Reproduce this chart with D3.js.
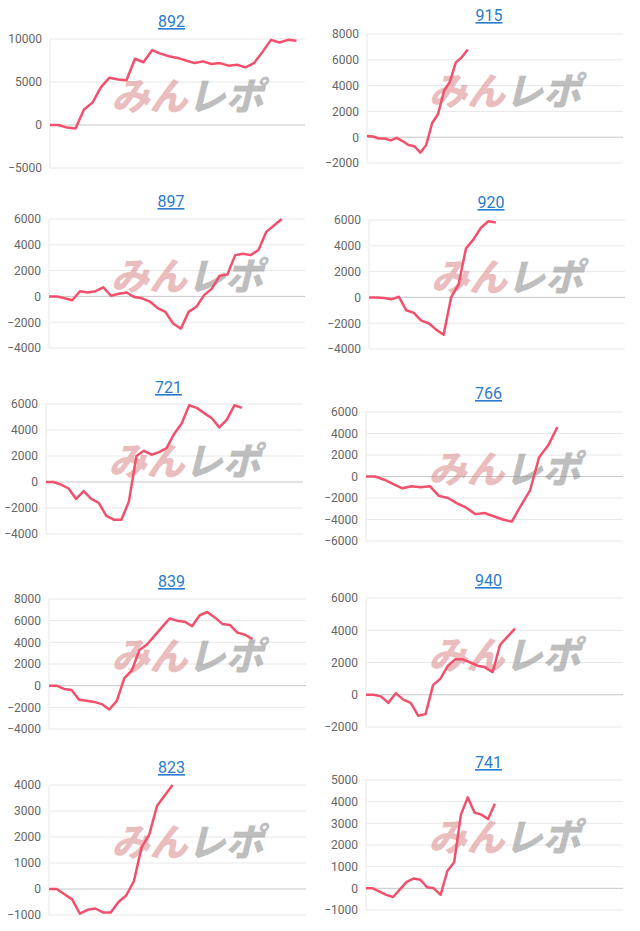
<!DOCTYPE html>
<html>
<head>
<meta charset="utf-8">
<script src="https://cdn.jsdelivr.net/npm/d3@7"></script>
<style>
body { margin: 0; background: #fff; }
</style>
</head>
<body>
<script>
var width = 640;
var height = 931;

// machine numbers
var titles = ["892", "915", "897", "920", "721", "766", "839", "940", "823", "741"];

// cumulative values per machine
var v892 = [0, 0, -300, -400, 1800, 2600, 4400, 5500, 5300, 5200, 7700, 7300, 8700, 8300, 8000, 7800, 7500, 7200, 7400, 7100, 7200, 6900, 7000, 6700, 7200, 8500, 9900, 9600, 9900, 9800];
var v915 = [100, 50, -100, -100, -250, -50, -300, -600, -700, -1200, -600, 1100, 1800, 3600, 4300, 5800, 6200, 6800];
var v897 = [0, 0, -150, -300, 400, 300, 400, 700, 50, 200, 300, -50, -150, -400, -900, -1200, -2100, -2500, -1200, -800, 100, 600, 1600, 1700, 3200, 3300, 3200, 3600, 5000, 5500, 6000];
var v920 = [0, 0, -50, -150, 50, -1000, -1200, -1800, -2000, -2500, -2900, 0, 1000, 3800, 4500, 5400, 5900, 5800];
var v721 = [0, 0, -200, -500, -1300, -700, -1300, -1600, -2600, -2900, -2900, -1500, 2000, 2400, 2100, 2300, 2600, 3700, 4500, 5900, 5700, 5300, 4900, 4200, 4800, 5900, 5700];
var v766 = [0, 0, -300, -700, -1100, -900, -1000, -900, -1800, -2000, -2500, -2900, -3500, -3400, -3700, -4000, -4200, -2700, -1300, 1800, 2900, 4600];
var v839 = [0, 0, -300, -400, -1300, -1400, -1500, -1700, -2200, -1400, 700, 1400, 3300, 3800, 4600, 5400, 6200, 6000, 5900, 5500, 6500, 6800, 6300, 5700, 5600, 4900, 4700, 4300];
var v940 = [0, 0, -100, -500, 100, -300, -500, -1300, -1200, 600, 1000, 1800, 2200, 2200, 2000, 1800, 1700, 1400, 3100, 3600, 4100];
var v823 = [0, 0, -200, -400, -950, -800, -750, -900, -900, -500, -250, 300, 1600, 2100, 3200, 3600, 4000];
var v741 = [0, 0, -150, -300, -400, -50, 300, 450, 400, 50, 0, -300, 800, 1200, 3400, 4200, 3500, 3400, 3200, 3900];
var series = [v892, v915, v897, v920, v721, v766, v839, v940, v823, v741];

// y tick values per chart
var ticks892 = [-5000, 0, 5000, 10000];
var ticks915 = [-2000, 0, 2000, 4000, 6000, 8000];
var ticks897 = [-4000, -2000, 0, 2000, 4000, 6000];
var ticks920 = [-4000, -2000, 0, 2000, 4000, 6000];
var ticks721 = [-4000, -2000, 0, 2000, 4000, 6000];
var ticks766 = [-6000, -4000, -2000, 0, 2000, 4000, 6000];
var ticks839 = [-4000, -2000, 0, 2000, 4000, 6000, 8000];
var ticks940 = [-2000, 0, 2000, 4000, 6000];
var ticks823 = [-1000, 0, 1000, 2000, 3000, 4000];
var ticks741 = [-1000, 0, 1000, 2000, 3000, 4000, 5000];
var tickSets = [ticks892, ticks915, ticks897, ticks920, ticks721, ticks766, ticks839, ticks940, ticks823, ticks741];

// layout of each panel: plot box and title position, x extent of the series
var layout = [
  {l: 50, r: 305, t: 39, b: 168, ty: 21, xMax: 30},
  {l: 367, r: 623, t: 34, b: 163, ty: 15, xMax: 43.2},
  {l: 49, r: 305, t: 219, b: 348, ty: 201, xMax: 33},
  {l: 369, r: 625, t: 220, b: 349, ty: 202, xMax: 34.3},
  {l: 46, r: 303, t: 404, b: 534, ty: 387, xMax: 34.1},
  {l: 366, r: 623, t: 412, b: 541, ty: 393, xMax: 28.2},
  {l: 49, r: 306, t: 599, b: 729, ty: 581, xMax: 34.1},
  {l: 366, r: 623, t: 598, b: 727, ty: 580, xMax: 34.5},
  {l: 49, r: 306, t: 785, b: 915, ty: 767, xMax: 33.3},
  {l: 366, r: 623, t: 780, b: 910, ty: 762, xMax: 37.9}
];

var svg = d3.select("body")
  .append("svg")
  .attr("width", width)
  .attr("height", height);

series.forEach(function(vals, i) {
  var p = layout[i];
  var tk = tickSets[i];
  var g = svg.append("g");

  var xScale = d3.scaleLinear()
    .domain([0, p.xMax])
    .range([p.l, p.r]);

  var yScale = d3.scaleLinear()
    .domain([tk[0], tk[tk.length - 1]])
    .range([p.b, p.t]);

  // grid
  g.selectAll("line.grid")
    .data(tk)
    .enter()
    .append("line")
    .attr("x1", p.l)
    .attr("x2", p.r)
    .attr("y1", function(d) { return yScale(d); })
    .attr("y2", function(d) { return yScale(d); })
    .attr("stroke", function(d) { return d === 0 ? "#c8c8c8" : "#e8e8e8"; })
    .attr("stroke-width", 1);

  g.append("line")
    .attr("x1", p.l).attr("x2", p.l)
    .attr("y1", p.t).attr("y2", p.b)
    .attr("stroke", "#e8e8e8");

  var yAxis = g.append("g")
    .attr("transform", "translate(" + p.l + ",0)")
    .call(d3.axisLeft(yScale).tickValues(tk).tickFormat(d3.format("d")).tickSize(0).tickPadding(8));
  yAxis.select(".domain").remove();
  yAxis.selectAll("text")
    .attr("fill", "#666")
    .style("font-family", "Roboto, Arial, sans-serif")
    .style("font-size", "12px");

  // watermark
  var cx = (p.l + p.r) / 2 + 10;
  var cy = (p.t + p.b) / 2 - 8;
  var wm = g.append("text")
    .attr("x", cx)
    .attr("y", cy + 14)
    .attr("text-anchor", "middle")
    .style("font-family", "'Noto Sans CJK JP', sans-serif")
    .style("font-weight", "900")
    .style("font-style", "italic")
    .style("font-size", "38px")
    .attr("opacity", 0.55);
  wm.append("tspan").attr("fill", "#d98a8a").text("みん");
  wm.append("tspan").attr("fill", "#8a8a8a").text("レポ");

  var line = d3.line()
    .x(function(d, j) { return xScale(j); })
    .y(function(d) { return yScale(d); });

  g.append("path")
    .datum(vals)
    .attr("d", line)
    .attr("fill", "none")
    .attr("stroke", "#f2506d")
    .attr("stroke-width", 2.5)
    .attr("stroke-linejoin", "round");

  g.append("text")
    .attr("x", (p.l + p.r) / 2 - 6)
    .attr("y", p.ty + 6)
    .attr("text-anchor", "middle")
    .attr("fill", "#2b7bd0")
    .style("font-family", "Roboto, Arial, sans-serif")
    .style("font-size", "16px")
    .style("text-decoration", "underline")
    .text(titles[i]);
});
</script>
</body>
</html>
